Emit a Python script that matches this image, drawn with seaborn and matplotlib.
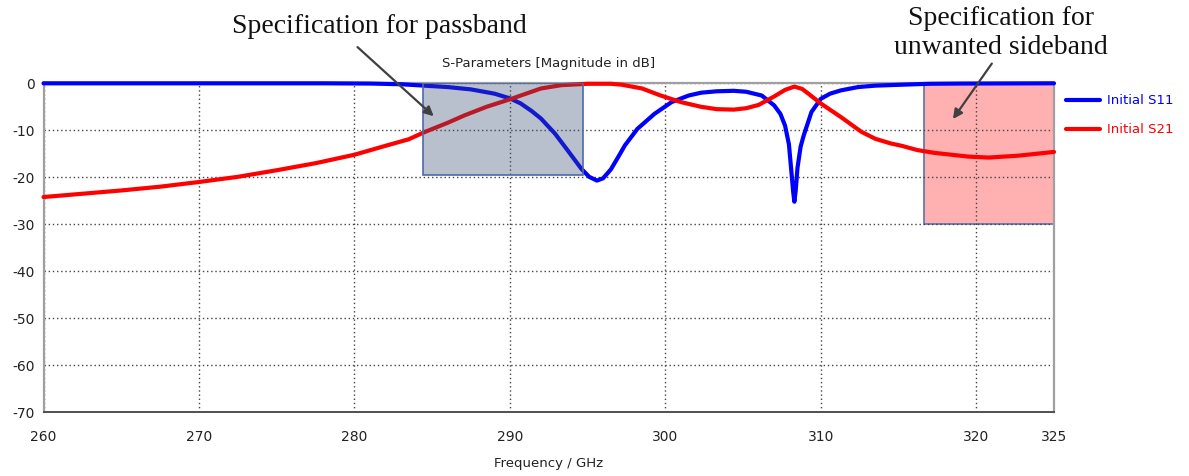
import numpy as np
import pandas as pd
import seaborn as sns
import matplotlib
matplotlib.use("Agg")
import matplotlib.pyplot as plt
from matplotlib.patches import Rectangle

# ---- data -------------------------------------------------------------
s11_freq = [260, 270, 278, 281, 283, 284.5, 286, 287.5, 289, 290, 290.7, 291.4,
            292, 292.9, 293.7, 294.6, 295.1, 295.6, 296.0, 296.5, 297.0, 297.4,
            298.2, 299.3, 300.4, 301.5, 302.3, 303.3, 304.4, 305.2, 306.2, 307.0,
            307.4, 307.7, 307.95, 308.1, 308.22, 308.3, 308.38, 308.5, 308.7,
            308.9, 309.4, 310.0, 310.6, 311.3, 312.4, 313.5, 315.2, 317, 319, 325]
s11_db = [0, 0, 0, -0.05, -0.2, -0.5, -0.8, -1.3, -2.2, -3.2, -4.3, -5.9,
          -7.5, -10.7, -14.2, -18.2, -19.9, -20.7, -20.2, -18.3, -15.5, -13.2,
          -9.7, -6.5, -4.0, -2.6, -2.0, -1.7, -1.6, -1.8, -2.6, -4.7,
          -6.5, -9.0, -13.0, -18.5, -23.0, -25.2, -23.0, -18.0, -13.5,
          -11.1, -6.1, -3.3, -2.2, -1.5, -0.8, -0.5, -0.3, -0.1, -0.05, 0]

s21_freq = [260, 262.5, 265, 267.5, 270, 272.5, 275, 277.5, 280, 282, 283.5,
            284.5, 286, 287.1, 288.5, 290.1, 290.7, 292, 293.3, 295, 296.5,
            297.2, 298.5, 299.7, 301.0, 302.3, 303.3, 304.4, 305.2, 306.0,
            307.0, 307.7, 308.3, 308.8, 309.2, 310.0, 311.3, 312.6, 313.5,
            314.5, 315.2, 316.2, 317.3, 319.5, 320.8, 322.7, 325]
s21_db = [-24.2, -23.5, -22.8, -22.0, -21.0, -19.9, -18.5, -17.0, -15.2, -13.3,
          -11.9, -10.4, -8.4, -6.8, -5.0, -3.3, -2.6, -1.1, -0.4, -0.1, -0.1,
          -0.3, -1.1, -2.6, -4.0, -5.0, -5.5, -5.6, -5.3, -4.6,
          -2.8, -1.4, -0.7, -1.2, -2.2, -4.3, -7.2, -10.3, -11.8,
          -12.8, -13.3, -14.2, -14.8, -15.6, -15.8, -15.4, -14.6]

series_names = ["Initial S11", "Initial S21"]
series_colors = ["#0000ff", "#ff0000"]

x_ticks = [260, 270, 280, 290, 300, 310, 320, 325]
y_ticks = [0, -10, -20, -30, -40, -50, -60, -70]

# specification masks: (f_start, f_stop, top dB, bottom dB)
passband_spec = [284.4, 294.7, 0, -19.5]
sideband_spec = [316.65, 325, 0, -30]

df = pd.concat([
    pd.DataFrame({"freq": s11_freq, "db": s11_db, "trace": series_names[0]}),
    pd.DataFrame({"freq": s21_freq, "db": s21_db, "trace": series_names[1]}),
], ignore_index=True)

# ---- figure -----------------------------------------------------------
sns.set_theme(style="white")
plt.rcParams["font.family"] = ["DejaVu Sans"]

fig = plt.figure(figsize=(11.89, 4.76), dpi=100)
ax = fig.add_axes([43.5 / 1189, 1 - 412.3 / 476, (1054 - 43.5) / 1189, (412.3 - 83.3) / 476])

sns.lineplot(data=df, x="freq", y="db", hue="trace", palette=series_colors,
             estimator=None, sort=False, linewidth=3.0, ax=ax)
for ln in ax.get_lines():
    ln.set_clip_on(False)
    ln.set_zorder(2.7)  # above the frame so the 0 dB trace keeps its full width

ax.set_xlim(260, 325)
ax.set_ylim(-70, 0)
ax.set_xticks(x_ticks)
ax.set_yticks(y_ticks)
ax.set_xticklabels([str(t) for t in x_ticks])
ax.set_yticklabels([str(t) for t in y_ticks])

ax.set_axisbelow(True)
ax.grid(True, linestyle=(0, (1, 2)), color="#444444", linewidth=1.0)

# sideband mask sits under the grid and traces
f0, f1, top, bot = sideband_spec
ax.add_patch(Rectangle((f0, bot), f1 - f0, top - bot, facecolor="#ffb0b0",
                       edgecolor="#5a72b0", linewidth=1.2, zorder=0.4))
# passband mask is translucent and drawn over the traces
f0, f1, top, bot = passband_spec
ax.add_patch(Rectangle((f0, bot), f1 - f0, top - bot,
                       facecolor=(55 / 255, 75 / 255, 112 / 255, 0.35),
                       edgecolor="#4f6aa6", linewidth=1.2, zorder=3))

for side in ["left", "top", "right"]:
    ax.spines[side].set_color("#a0a0a0")
    ax.spines[side].set_linewidth(1.6)
ax.spines["bottom"].set_color("#505050")
ax.spines["bottom"].set_linewidth(1.4)

ax.tick_params(axis="both", which="both", direction="out", length=4, width=1,
               color="#606060", labelsize=10, labelcolor="#222222")
ax.tick_params(axis="x", pad=9)
ax.tick_params(axis="y", pad=2)

ax.set_title("S-Parameters [Magnitude in dB]", fontsize=9.5, color="#222222", pad=12)
ax.set_xlabel("Frequency / GHz", fontsize=9.5, color="#222222", labelpad=9)
ax.set_ylabel("")

handles, labels = ax.get_legend_handles_labels()
leg = ax.legend(handles, labels, loc="upper left", bbox_to_anchor=(1.012, 0.966),
                frameon=False, fontsize=9.5, borderaxespad=0, borderpad=0,
                handlelength=2.6, handletextpad=0.5, labelspacing=1.2)
for txt, col in zip(leg.get_texts(), series_colors):
    txt.set_color(col)
for h in leg.get_lines():
    h.set_linewidth(3.0)

# annotations
ax.text(281.6, 12.0, "Specification for passband", family="Liberation Serif",
        fontsize=20, color="#111111", ha="center", va="center", clip_on=False)
ax.annotate("", xy=(285.1, -7.0), xytext=(280.2, 7.7), xycoords="data",
            textcoords="data", annotation_clip=False,
            arrowprops=dict(arrowstyle="-|>", color="#404040", lw=1.6,
                            mutation_scale=14, shrinkA=0, shrinkB=0))

ax.text(321.6, 10.7, "Specification for\nunwanted sideband", family="Liberation Serif",
        fontsize=20, color="#111111", ha="center", va="center", linespacing=1.2,
        clip_on=False)
ax.annotate("", xy=(318.5, -7.6), xytext=(321.0, 4.2), xycoords="data",
            textcoords="data", annotation_clip=False,
            arrowprops=dict(arrowstyle="-|>", color="#404040", lw=1.6,
                            mutation_scale=14, shrinkA=0, shrinkB=0))

fig.savefig("out.png", dpi=100)
